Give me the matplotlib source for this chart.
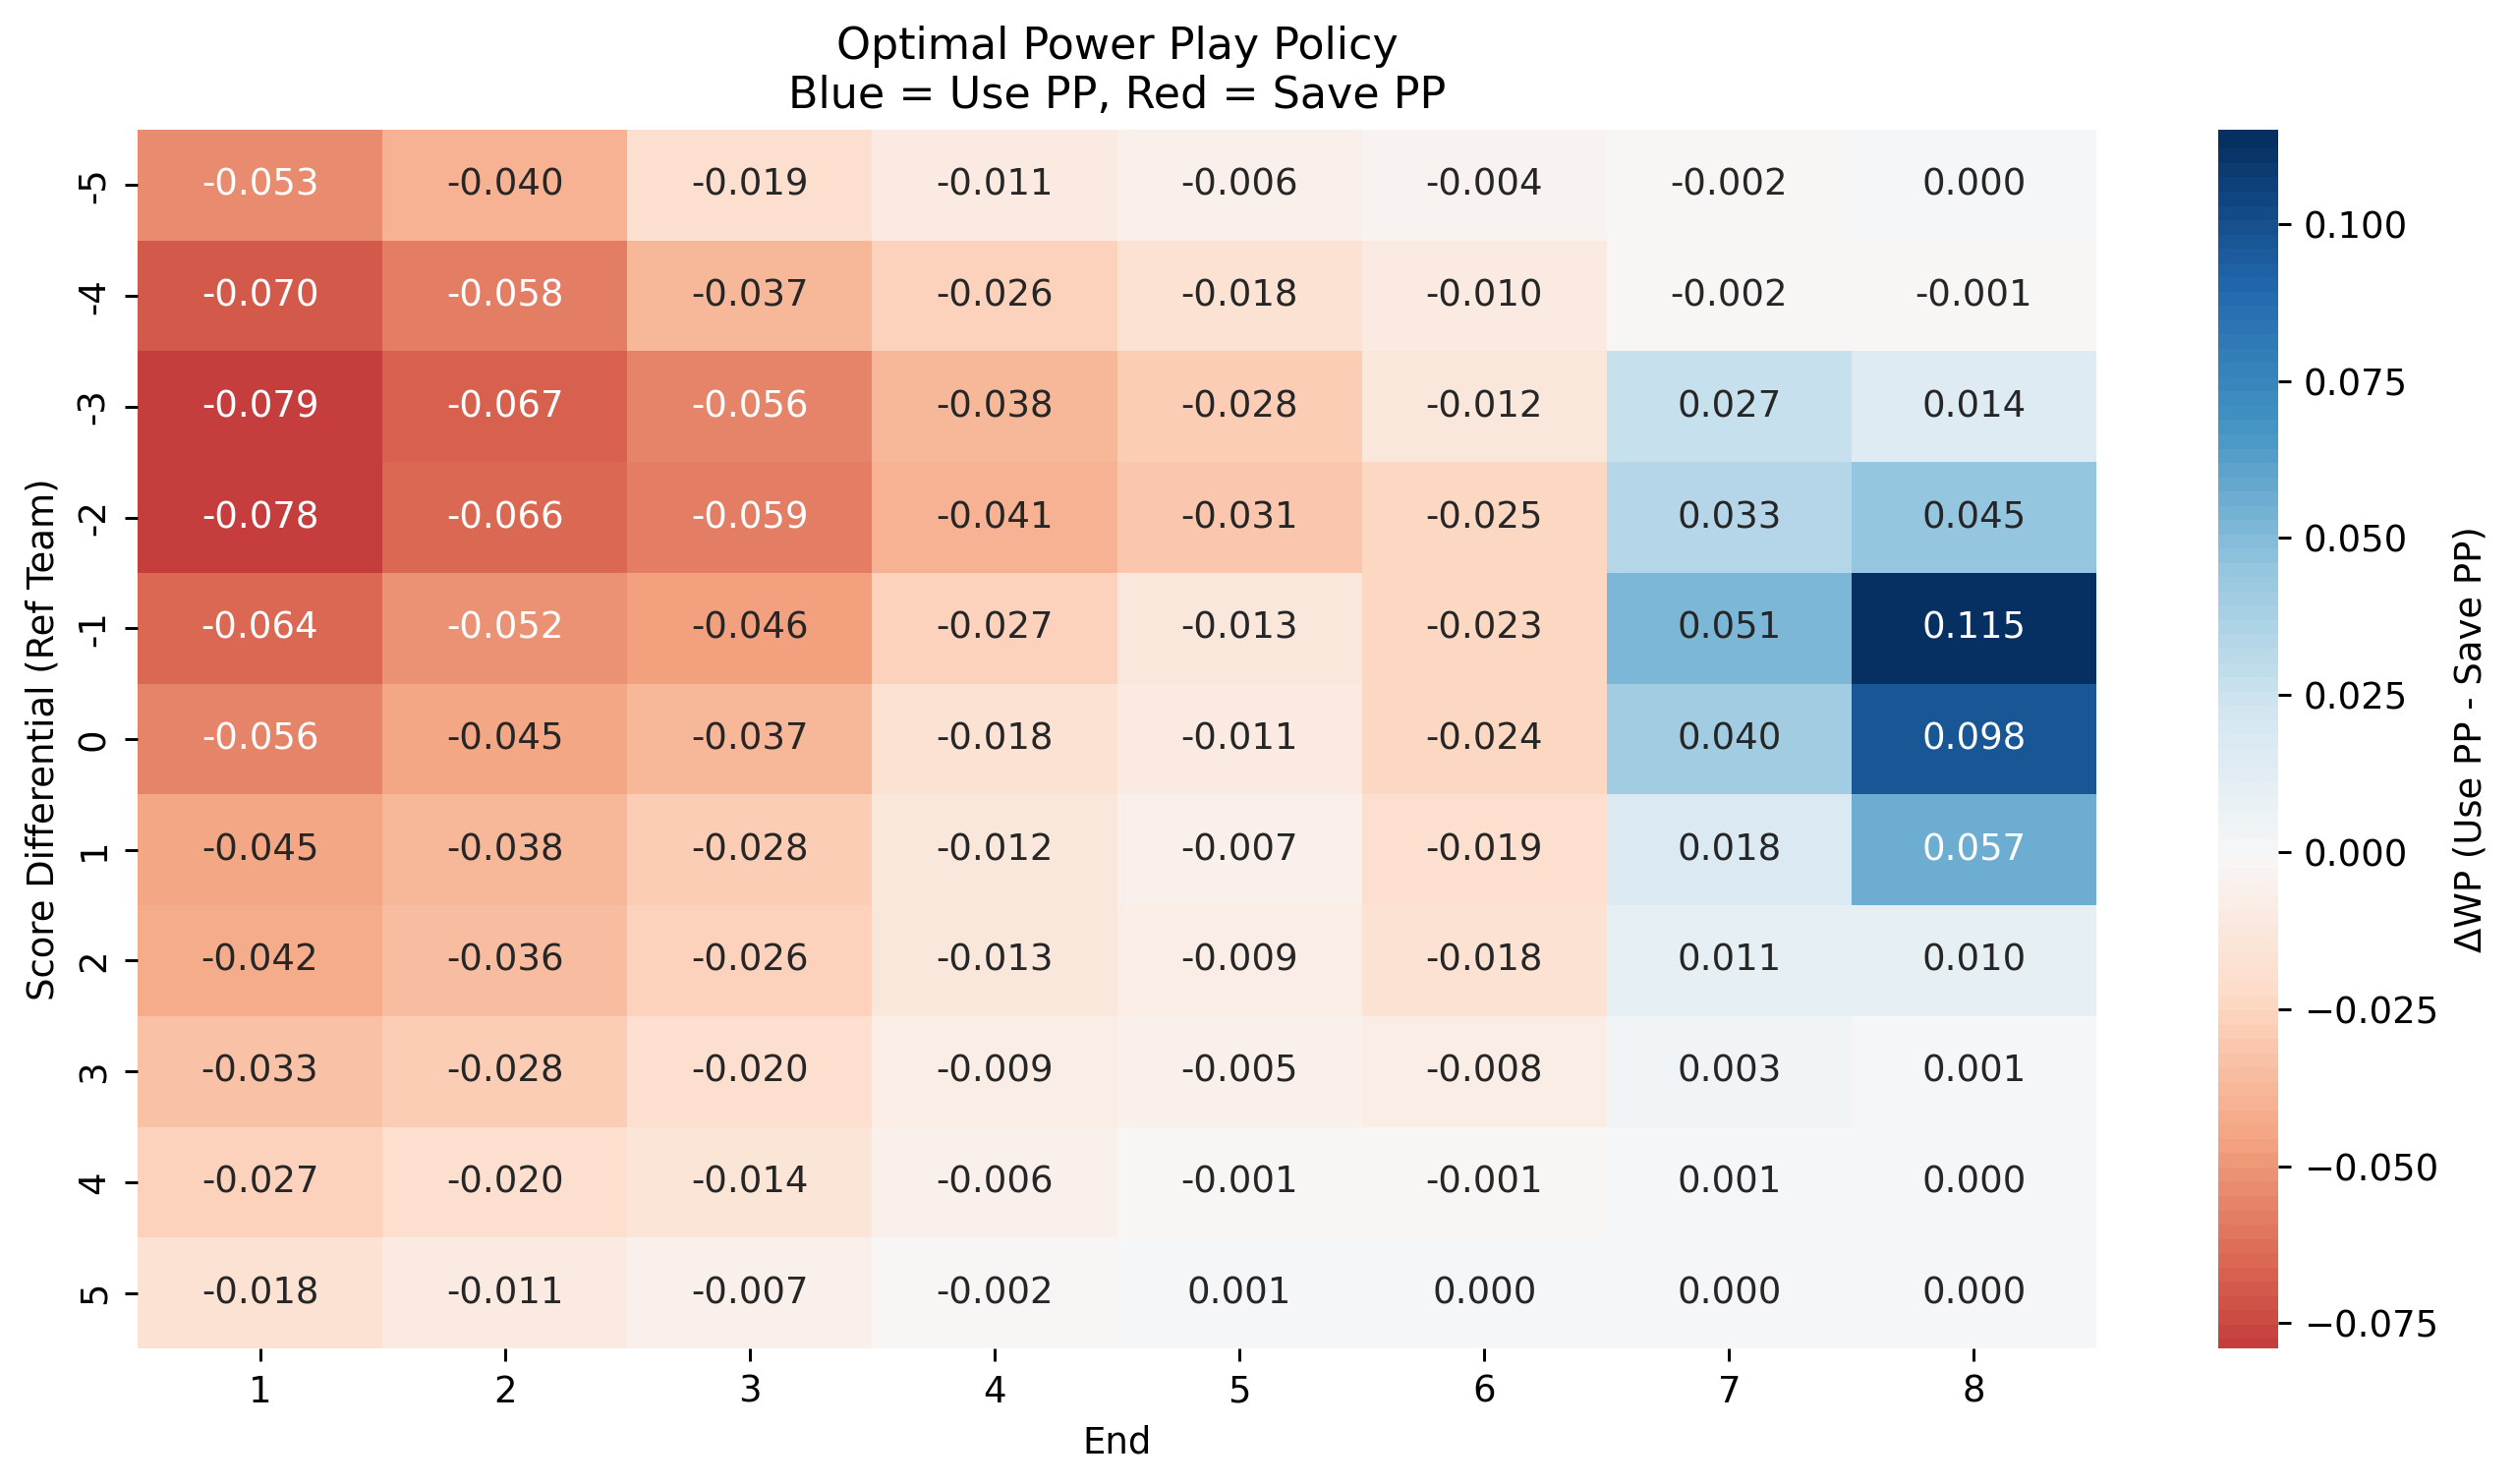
import matplotlib
matplotlib.use("Agg")
import matplotlib.pyplot as plt
import numpy as np
import pandas as pd
import seaborn as sns

ends = [1, 2, 3, 4, 5, 6, 7, 8]
score_diffs = [-5, -4, -3, -2, -1, 0, 1, 2, 3, 4, 5]

row_m5 = [-0.053, -0.040, -0.019, -0.011, -0.006, -0.004, -0.002, 0.000]
row_m4 = [-0.070, -0.058, -0.037, -0.026, -0.018, -0.010, -0.002, -0.001]
row_m3 = [-0.079, -0.067, -0.056, -0.038, -0.028, -0.012, 0.027, 0.014]
row_m2 = [-0.078, -0.066, -0.059, -0.041, -0.031, -0.025, 0.033, 0.045]
row_m1 = [-0.064, -0.052, -0.046, -0.027, -0.013, -0.023, 0.051, 0.115]
row_0 = [-0.056, -0.045, -0.037, -0.018, -0.011, -0.024, 0.040, 0.098]
row_p1 = [-0.045, -0.038, -0.028, -0.012, -0.007, -0.019, 0.018, 0.057]
row_p2 = [-0.042, -0.036, -0.026, -0.013, -0.009, -0.018, 0.011, 0.010]
row_p3 = [-0.033, -0.028, -0.020, -0.009, -0.005, -0.008, 0.003, 0.001]
row_p4 = [-0.027, -0.020, -0.014, -0.006, -0.001, -0.001, 0.001, 0.000]
row_p5 = [-0.018, -0.011, -0.007, -0.002, 0.001, 0.000, 0.000, 0.000]

rows = [row_m5, row_m4, row_m3, row_m2, row_m1, row_0,
        row_p1, row_p2, row_p3, row_p4, row_p5]
df = pd.DataFrame(rows, index=score_diffs, columns=ends)

DPI = 266
fig = plt.figure(figsize=(2560 / DPI, 1510 / DPI), dpi=DPI)
ax = fig.add_axes([140 / 2560, 1 - 1372 / 1510, (2133 - 140) / 2560, (1372 - 132) / 1510])
cax = fig.add_axes([2257 / 2560, 1 - 1372 / 1510, 61 / 2560, (1372 - 132) / 1510])

cmap = matplotlib.colormaps["RdBu"].resampled(100)
sns.heatmap(df, ax=ax, cbar_ax=cax, annot=True, fmt=".3f", cmap=cmap, center=0,
            cbar_kws={"label": "ΔWP (Use PP - Save PP)"})
ax.set_title("Optimal Power Play Policy\nBlue = Use PP, Red = Save PP")
ax.set_xlabel("End")
ax.set_ylabel("Score Differential (Ref Team)")
ax.set_yticklabels([str(s) for s in score_diffs], rotation=90, va="center")
ax.set_xticklabels([str(e) for e in ends], rotation=0)

fig.savefig("out.png", dpi=DPI)
